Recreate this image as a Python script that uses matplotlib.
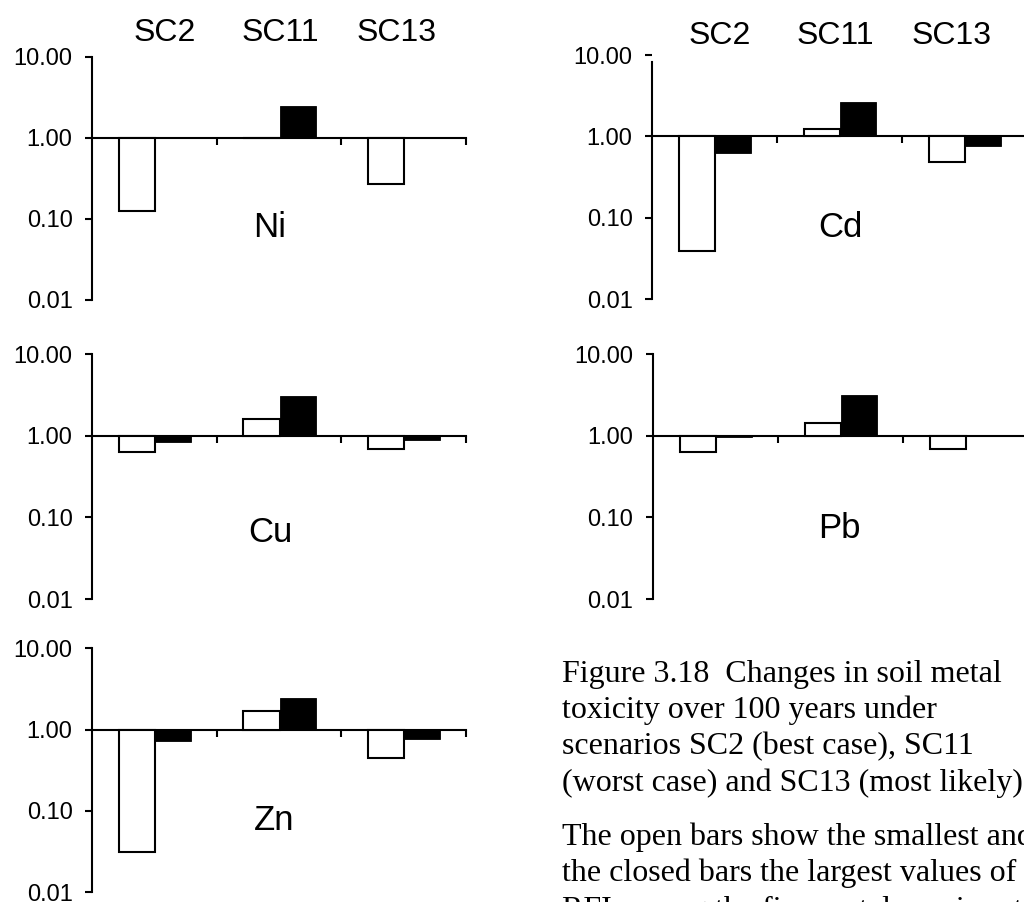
import matplotlib
matplotlib.use("Agg")
import matplotlib.pyplot as plt
from matplotlib.ticker import FixedLocator, FixedFormatter, NullLocator

plt.rcParams['font.family'] = ['Liberation Sans', 'DejaVu Sans']

# ---------------- data ----------------
scenarios = ['SC2', 'SC11', 'SC13']
metals = ['Ni', 'Cd', 'Cu', 'Pb', 'Zn']
ytick_values = [0.01, 0.1, 1.0, 10.0]
ytick_labels = ['0.01', '0.10', '1.00', '10.00']

# open bars = smallest value, closed bars = largest value (ratio, log scale)
ni_min = [0.125, 1.0, 0.27]
ni_max = [1.0, 2.45, 1.0]
cd_min = [0.039, 1.24, 0.48]
cd_max = [0.625, 2.68, 0.77]
cu_min = [0.63, 1.62, 0.69]
cu_max = [0.84, 3.12, 0.89]
pb_min = [0.64, 1.43, 0.69]
pb_max = [0.98, 3.21, 1.03]
zn_min = [0.031, 1.71, 0.45]
zn_max = [0.73, 2.48, 0.77]

caption_lines_1 = ["Figure 3.18  Changes in soil metal",
                   "toxicity over 100 years under",
                   "scenarios SC2 (best case), SC11",
                   "(worst case) and SC13 (most likely)"]
caption_lines_2 = ["The open bars show the smallest and",
                   "the closed bars the largest values of",
                   "RFI among the five metal species at"]

# ---------------- layout ----------------
W, H = 1024, 902
fig = plt.figure(figsize=(W / 100, H / 100), dpi=100)


def px_axes(left, top, right, bottom):
    return fig.add_axes([left / W, 1 - bottom / H, (right - left) / W, (bottom - top) / H])


panels = {
    'Ni': ((92, 57, 466, 300), ni_min, ni_max, (270, 237)),
    'Cd': ((652, 55, 1027, 299.3), cd_min, cd_max, (840, 237)),
    'Cu': ((92, 354.3, 466, 599), cu_min, cu_max, (270, 542)),
    'Pb': ((652.7, 354.3, 1027.7, 599), pb_min, pb_max, (839, 538)),
    'Zn': ((92, 648.3, 466, 892.3), zn_min, zn_max, (274, 830)),
}

bw = 0.29
for name in metals:
    rect, vmin, vmax, lab = panels[name]
    ax = px_axes(*rect)
    ax.set_yscale('log')
    ax.set_ylim(0.01, 10)
    ax.set_xlim(0, 3)
    for i in range(len(scenarios)):
        ax.bar(i + 0.215, vmin[i] - 1, bottom=1, width=bw, align='edge',
               facecolor='white', edgecolor='black', linewidth=1.5, zorder=3)
        ax.bar(i + 0.505, vmax[i] - 1, bottom=1, width=bw, align='edge',
               facecolor='black', edgecolor='black', linewidth=0.6, zorder=3)
    for s in ['top', 'right']:
        ax.spines[s].set_visible(False)
    ax.spines['bottom'].set_position(('data', 1))
    ax.spines['bottom'].set_linewidth(1.5)
    ax.spines['left'].set_linewidth(1.5)
    ax.spines['bottom'].set_zorder(2)
    if name == 'Cd':
        ax.spines['left'].set_bounds(0.01, 8.2)
    ax.yaxis.set_major_locator(FixedLocator(ytick_values))
    ax.yaxis.set_major_formatter(FixedFormatter(ytick_labels))
    ax.yaxis.set_minor_locator(NullLocator())
    ax.set_xticks([1, 2, 3])
    ax.set_xticklabels([])
    ax.tick_params(axis='y', length=5, width=1.5, pad=9, labelsize=17)
    ax.tick_params(axis='x', length=5, width=1.5, direction='out')
    ax.patch.set_visible(False)
    fig.text(lab[0] / W, 1 - lab[1] / H, name, fontsize=25,
             ha='center', va='baseline')

# scenario headings
for x, s in zip([165, 280, 397], scenarios):
    fig.text(x / W, 1 - 41 / H, s, fontsize=23, ha='center', va='baseline')
for x, s in zip([720, 835, 952], scenarios):
    fig.text(x / W, 1 - 44.3 / H, s, fontsize=23, ha='center', va='baseline')

# caption
serif = ['Liberation Serif', 'DejaVu Serif']
y0 = 681.7
for k, line in enumerate(caption_lines_1):
    fig.text(562 / W, 1 - (y0 + 36.5 * k) / H, line, fontsize=23,
             family=serif, ha='left', va='baseline')
y1 = 845
for k, line in enumerate(caption_lines_2):
    fig.text(562 / W, 1 - (y1 + 36.5 * k) / H, line, fontsize=23,
             family=serif, ha='left', va='baseline')

fig.savefig('out.png', dpi=100)
